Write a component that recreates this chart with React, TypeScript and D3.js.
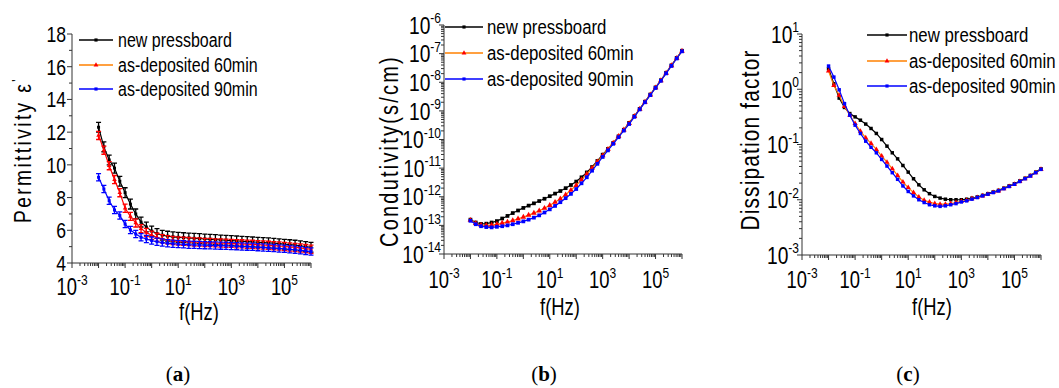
import * as d3 from 'd3';
import * as React from 'react';

// measurement frequencies (Hz), 5 points per decade
const freqHz = [
  0.01, 0.01585, 0.02512, 0.03981, 0.0631, 0.1, 0.1585, 0.2512, 0.3981, 0.631,
  1, 1.585, 2.512, 3.981, 6.31, 10, 15.85, 25.12, 39.81, 63.1,
  100, 158.5, 251.2, 398.1, 631, 1000, 1585, 2512, 3981, 6310,
  1e4, 15850, 25120, 39810, 63100, 1e5, 158500, 251200, 398100, 631000, 1e6,
];

const seriesNames = ['new pressboard', 'as-deposited 60min', 'as-deposited 90min'];

// (a) permittivity
const permNew = [12.3, 11.1, 10.3, 9.8, 9.0, 8.3, 7.6, 7.0, 6.5, 6.2, 5.95, 5.8, 5.7, 5.64, 5.6,
  5.57, 5.55, 5.53, 5.51, 5.49, 5.47, 5.45, 5.43, 5.41, 5.39, 5.37, 5.35, 5.33, 5.31, 5.29,
  5.27, 5.25, 5.23, 5.21, 5.18, 5.15, 5.12, 5.09, 5.05, 5.01, 4.96];
const perm60 = [11.8, 10.9, 9.95, 9.1, 8.3, 7.35, 6.85, 6.45, 6.1, 5.87, 5.7, 5.57, 5.48, 5.42, 5.38,
  5.35, 5.33, 5.31, 5.29, 5.28, 5.26, 5.25, 5.23, 5.22, 5.21, 5.2, 5.18, 5.17, 5.15, 5.14,
  5.12, 5.1, 5.08, 5.06, 5.04, 5.01, 4.98, 4.95, 4.92, 4.88, 4.84];
const perm90 = [9.24, 8.52, 7.81, 7.24, 6.9, 6.38, 6.02, 5.77, 5.57, 5.47, 5.37, 5.3, 5.25, 5.21, 5.18,
  5.16, 5.14, 5.12, 5.11, 5.1, 5.09, 5.08, 5.07, 5.06, 5.05, 5.04, 5.03, 5.01, 5.0, 4.99,
  4.97, 4.95, 4.93, 4.91, 4.89, 4.87, 4.84, 4.81, 4.78, 4.74, 4.7];
const permErr = [0.3, 0.25, 0.22];

// (b) conductivity, log10 of s/cm
const condNewExp = [-12.8, -12.9, -12.95, -12.94, -12.9, -12.85, -12.76, -12.67, -12.57, -12.48,
  -12.39, -12.31, -12.23, -12.15, -12.07, -11.98, -11.89, -11.8, -11.7, -11.59,
  -11.47, -11.32, -11.15, -10.96, -10.75, -10.53, -10.33, -10.12, -9.89, -9.66,
  -9.42, -9.18, -8.93, -8.68, -8.43, -8.18, -7.93, -7.67, -7.41, -7.15, -6.9];
const cond60Exp = [-12.82, -12.93, -12.99, -13.0, -12.99, -12.96, -12.92, -12.88, -12.83, -12.77,
  -12.71, -12.64, -12.57, -12.49, -12.4, -12.3, -12.19, -12.07, -11.93, -11.77,
  -11.6, -11.41, -11.21, -11.0, -10.78, -10.56, -10.34, -10.12, -9.89, -9.66,
  -9.44, -9.19, -8.94, -8.69, -8.44, -8.19, -7.94, -7.68, -7.42, -7.16, -6.91];
const cond90Exp = [-12.84, -12.96, -13.03, -13.06, -13.07, -13.05, -13.03, -13.0, -12.96, -12.91,
  -12.86, -12.8, -12.73, -12.65, -12.55, -12.44, -12.32, -12.19, -12.05, -11.9,
  -11.73, -11.53, -11.32, -11.09, -10.85, -10.61, -10.38, -10.15, -9.92, -9.69,
  -9.46, -9.21, -8.95, -8.7, -8.45, -8.2, -7.95, -7.69, -7.43, -7.17, -6.92];

// (c) dissipation factor, log10
const dfNewExp = [0.37, 0.1, -0.16, -0.33, -0.44, -0.5, -0.56, -0.63, -0.71, -0.8,
  -0.91, -1.03, -1.15, -1.26, -1.38, -1.5, -1.62, -1.73, -1.82, -1.89,
  -1.94, -1.97, -1.99, -2.0, -2.0, -2.0, -1.99, -1.97, -1.95, -1.92,
  -1.89, -1.86, -1.83, -1.79, -1.75, -1.71, -1.66, -1.61, -1.56, -1.5, -1.44];
const df60Exp = [0.33, 0.07, -0.11, -0.31, -0.47, -0.62, -0.76, -0.88, -0.98, -1.09,
  -1.21, -1.32, -1.44, -1.56, -1.68, -1.78, -1.87, -1.95, -2.01, -2.04,
  -2.07, -2.08, -2.08, -2.07, -2.05, -2.03, -2.01, -1.98, -1.96, -1.93,
  -1.9, -1.87, -1.84, -1.8, -1.76, -1.72, -1.67, -1.62, -1.57, -1.51, -1.45];
const df90Exp = [0.42, 0.22, -0.01, -0.26, -0.47, -0.65, -0.8, -0.94, -1.05, -1.15,
  -1.27, -1.39, -1.51, -1.63, -1.75, -1.85, -1.93, -2.0, -2.05, -2.09,
  -2.11, -2.12, -2.11, -2.09, -2.07, -2.04, -2.02, -1.99, -1.96, -1.93,
  -1.9, -1.87, -1.84, -1.8, -1.76, -1.72, -1.67, -1.62, -1.57, -1.51, -1.45];

const FONT = '"Liberation Sans", Arial, sans-serif';
const SX = 0.8; // the figure uses a condensed face, squeeze the glyphs
const AXIS = '#333';

interface ISeries {
  values: number[];
  line: string;
  mark: string;
  symbol: d3.SymbolType;
  err?: number;
}

const palette = [
  { line: '#000000', mark: '#000000', symbol: d3.symbolSquare },
  { line: '#ff8000', mark: '#ff0000', symbol: d3.symbolTriangle },
  { line: '#0000ff', mark: '#0000ff', symbol: d3.symbolSquare },
];

// condensed text: translate, optional rotate, then squeeze along the text direction
function NText({ x, y, fs, anchor = 'start', rotate = false, spacing = 0, children }: any) {
  return (
    <text transform={`translate(${x},${y})${rotate ? ' rotate(-90)' : ''} scale(${SX},1)`}
      textAnchor={anchor} fontSize={fs} fontFamily={FONT} letterSpacing={spacing / SX} fill="#000">
      {children}
    </text>
  );
}

const Pow = ({ exp, sup }: { exp: number; sup: number }) => (
  <>
    10
    <tspan dy={-sup * 0.7} fontSize={sup}>{exp}</tspan>
  </>
);

function XAxis({ x, y0, labelY, titleX, titleY }: any) {
  const [r0, r1] = x.range();
  const majors = d3.range(-3, 7);
  const minors: number[] = [];
  for (let k = -3; k < 6; k++) for (let m = 2; m < 10; m++) minors.push(m * Math.pow(10, k));
  return (
    <g>
      <line x1={r0} x2={r1} y1={y0} y2={y0} stroke={AXIS} />
      {majors.map((k) => (
        <line key={k} x1={x(Math.pow(10, k))} x2={x(Math.pow(10, k))} y1={y0} y2={y0 + 5} stroke={AXIS} />
      ))}
      {minors.map((v, i) => (
        <line key={i} x1={x(v)} x2={x(v)} y1={y0} y2={y0 + 3} stroke={AXIS} />
      ))}
      {[-3, -1, 1, 3, 5].map((k) => (
        <NText key={k} x={x(Math.pow(10, k))} y={labelY} anchor="middle" fs={23}>
          <Pow exp={k} sup={15} />
        </NText>
      ))}
      <NText x={titleX} y={titleY} anchor="middle" fs={23}>f(Hz)</NText>
    </g>
  );
}

function LogYAxis({ y, x0, labelX, lo, hi, fs }: any) {
  const [b, t] = y.range();
  const minors: number[] = [];
  for (let k = lo; k < hi; k++) for (let m = 2; m < 10; m++) minors.push(m * Math.pow(10, k));
  return (
    <g>
      <line x1={x0} x2={x0} y1={b} y2={t} stroke={AXIS} />
      {d3.range(lo, hi + 1).map((k) => (
        <g key={k}>
          <line x1={x0 - 5} x2={x0} y1={y(Math.pow(10, k))} y2={y(Math.pow(10, k))} stroke={AXIS} />
          <NText x={labelX} y={y(Math.pow(10, k)) + fs * 0.36} anchor="end" fs={fs}>
            <Pow exp={k} sup={15} />
          </NText>
        </g>
      ))}
      {minors.map((v, i) => (
        <line key={i} x1={x0 - 3} x2={x0} y1={y(v)} y2={y(v)} stroke={AXIS} />
      ))}
    </g>
  );
}

function SeriesMarks({ x, y, s, size }: { x: any; y: any; s: ISeries; size: number }) {
  const line = d3.line<number>().x((_, i) => x(freqHz[i])).y((d) => y(d));
  const sym = d3.symbol().type(s.symbol).size(size)();
  return (
    <g>
      <path d={line(s.values) || ''} fill="none" stroke={s.line} strokeWidth={1.2} />
      {s.err !== undefined &&
        s.values.map((v, i) => {
          const cx = x(freqHz[i]);
          const y1 = y(v - s.err!);
          const y2 = y(v + s.err!);
          return (
            <path key={'e' + i} d={`M${cx},${y1}V${y2}M${cx - 2.5},${y1}H${cx + 2.5}M${cx - 2.5},${y2}H${cx + 2.5}`}
              stroke={s.mark} strokeWidth={1.3} fill="none" />
          );
        })}
      {s.values.map((v, i) => (
        <path key={i} d={sym || ''} transform={`translate(${x(freqHz[i])},${y(v)})`} fill={s.mark} />
      ))}
    </g>
  );
}

function Legend({ x1, x2, ys, tx, fs }: any) {
  return (
    <g>
      {seriesNames.map((n, i) => (
        <g key={n}>
          <line x1={x1} x2={x2} y1={ys[i]} y2={ys[i]} stroke={palette[i].line} strokeWidth={1.3} />
          <path d={d3.symbol().type(palette[i].symbol).size(10)() || ''}
            transform={`translate(${(x1 + x2) / 2},${ys[i]})`} fill={palette[i].mark} />
          <NText x={tx} y={ys[i] + fs * 0.35} fs={fs}>{n}</NText>
        </g>
      ))}
    </g>
  );
}

function SubLabel({ x, y, letter }: { x: number; y: number; letter: string }) {
  return (
    <text x={x} y={y} textAnchor="middle" fontSize={21} fontFamily='"Liberation Serif", "DejaVu Serif", serif'>
      (<tspan fontWeight="bold">{letter}</tspan>)
    </text>
  );
}

export default function App() {
  // (a)
  const xA = d3.scaleLog().domain([1e-3, 1e6]).range([72, 311]);
  const yA = d3.scaleLinear().domain([4, 18]).range([263, 34]);
  const seriesA: ISeries[] = [permNew, perm60, perm90].map((values, i) => ({
    values, ...palette[i], line: i === 1 ? '#ff0000' : palette[i].line, err: permErr[i],
  }));

  // (b)
  const xB = d3.scaleLog().domain([1e-3, 1e6]).range([444, 682]);
  const yB = d3.scaleLog().domain([1e-14, 1e-6]).range([254, 25]);
  const seriesB: ISeries[] = [condNewExp, cond60Exp, cond90Exp].map((e, i) => ({
    values: e.map((v) => Math.pow(10, v)), ...palette[i],
  }));

  // (c)
  const xC = d3.scaleLog().domain([1e-3, 1e6]).range([802, 1041]);
  const yC = d3.scaleLog().domain([1e-3, 1e1]).range([255, 34]);
  const seriesC: ISeries[] = [dfNewExp, df60Exp, df90Exp].map((e, i) => ({
    values: e.map((v) => Math.pow(10, v)), ...palette[i],
  }));

  return (
    <div style={{ position: 'absolute', left: 0, top: 0, background: '#fff' }}>
      <svg width={1059} height={388} viewBox="0 0 1059 388" style={{ display: 'block' }}>
        <rect width={1059} height={388} fill="#fff" />

        {/* (a) */}
        <g>
          <line x1={72} x2={72} y1={263} y2={34} stroke={AXIS} />
          {d3.range(4, 19, 2).map((v) => (
            <g key={v}>
              <line x1={67} x2={72} y1={yA(v)} y2={yA(v)} stroke={AXIS} />
              <NText x={66} y={yA(v) + 8} anchor="end" fs={22}>{v}</NText>
            </g>
          ))}
          {d3.range(5, 18, 2).map((v) => (
            <line key={v} x1={69} x2={72} y1={yA(v)} y2={yA(v)} stroke={AXIS} />
          ))}
          <XAxis x={xA} y0={263} labelY={295} titleX={199} titleY={320} />
          {seriesA.map((s, i) => <SeriesMarks key={i} x={xA} y={yA} s={s} size={9} />)}
          <Legend x1={79} x2={113} ys={[40, 65, 89]} tx={118} fs={20} />
          <NText x={31} y={150} rotate anchor="middle" fs={24} spacing={2.4}>
            Permittivity ε<tspan dy={-9} fontSize={15}>'</tspan>
          </NText>
          <SubLabel x={178} y={381} letter="a" />
        </g>

        {/* (b) */}
        <g>
          <LogYAxis y={yB} x0={444} labelX={441} lo={-14} hi={-6} fs={24} />
          <XAxis x={xB} y0={254} labelY={288} titleX={560} titleY={315} />
          {seriesB.map((s, i) => <SeriesMarks key={i} x={xB} y={yB} s={s} size={14} />)}
          <Legend x1={445} x2={483} ys={[27, 53, 79]} tx={487} fs={21} />
          <NText x={398} y={151} rotate anchor="middle" fs={25} spacing={2.2}>Condutivity(s/cm)</NText>
          <SubLabel x={544} y={381} letter="b" />
        </g>

        {/* (c) */}
        <g>
          <LogYAxis y={yC} x0={802} labelX={799} lo={-3} hi={1} fs={24} />
          <XAxis x={xC} y0={255} labelY={288} titleX={932} titleY={315} />
          {seriesC.map((s, i) => <SeriesMarks key={i} x={xC} y={yC} s={s} size={12} />)}
          <Legend x1={867} x2={907} ys={[35, 61, 86]} tx={909} fs={21} />
          <NText x={759} y={140} rotate anchor="middle" fs={26} spacing={1.2}>Dissipation factor</NText>
          <SubLabel x={908} y={381} letter="c" />
        </g>
      </svg>
    </div>
  );
}
